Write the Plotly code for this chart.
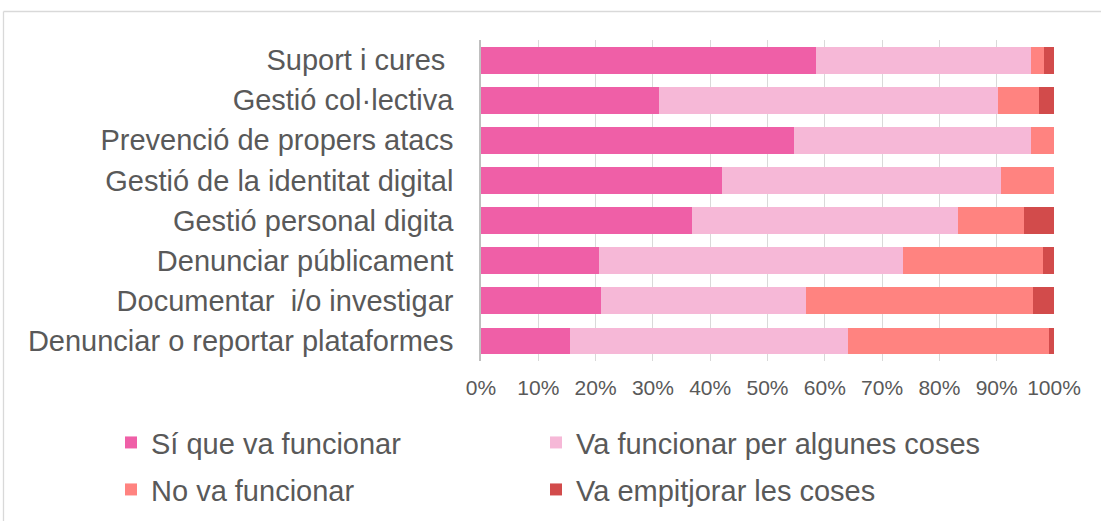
import plotly.graph_objects as go

categories = [
    "Suport i cures\u00a0",
    "Gestió col·lectiva",
    "Prevenció de propers atacs",
    "Gestió de la identitat digital",
    "Gestió personal digita",
    "Denunciar públicament",
    "Documentar \u00a0i/o investigar",
    "Denunciar o reportar plataformes",
]
si_funciona = [58.5, 31.0, 54.7, 42.1, 36.9, 20.6, 21.0, 15.5]
algunes_coses = [37.5, 59.2, 41.2, 48.7, 46.4, 53.0, 35.8, 48.5]
no_funciona = [2.3, 7.1, 4.1, 9.2, 11.4, 24.5, 39.6, 35.2]
empitjorar = [1.7, 2.7, 0.0, 0.0, 5.3, 1.9, 3.6, 0.8]

series_names = ["Sí que va funcionar", "Va funcionar per algunes coses",
                "No va funcionar", "Va empitjorar les coses"]
series_values = [si_funciona, algunes_coses, no_funciona, empitjorar]
colors = ["#EF5FA7", "#F6B8D7", "#FF8380", "#D24B4B"]
legend_ids = ["legend", "legend2", "legend3", "legend4"]

tick_vals = [0, 10, 20, 30, 40, 50, 60, 70, 80, 90, 100]
tick_text = [f"{v}%" for v in tick_vals]

fig = go.Figure()
for name, vals, col, lg in zip(series_names, series_values, colors, legend_ids):
    fig.add_trace(go.Bar(
        y=categories, x=vals, name=name, orientation="h",
        marker=dict(color=col, line=dict(width=0)),
        legend=lg, showlegend=True,
    ))

font_family = "Liberation Sans, Arial, sans-serif"
W, H = 1101, 521
L, R, T, B = 481, 47, 40, 160
pw = W - L - R
ph = H - T - B

def px_to_paper_x(px):
    return (px - L) / pw

def px_to_paper_y(py):
    return (H - B - py) / ph

def legend_at(px, py):
    return dict(
        x=px_to_paper_x(px), y=px_to_paper_y(py),
        xanchor="left", yanchor="middle",
        orientation="h",
        font=dict(size=29, color="#595959"),
        bgcolor="rgba(0,0,0,0)",
    )

# legend box positions (left edge, vertical centre)
col_x = [111, 536]
row_y = [442.6, 489.6]

fig.update_layout(
    width=W, height=H,
    showlegend=True,
    barmode="stack",
    bargap=0.33,
    plot_bgcolor="white",
    paper_bgcolor="white",
    margin=dict(l=L, r=R, t=T, b=B, pad=0, autoexpand=False),
    font=dict(family=font_family, color="#595959"),
    xaxis=dict(
        range=[0, 100], tickvals=tick_vals, ticktext=tick_text,
        showgrid=True, gridcolor="#D9D9D9", gridwidth=1.3,
        zeroline=False, showline=False,
        tickfont=dict(size=21, color="#595959"),
        ticklabelstandoff=12, fixedrange=True,
    ),
    yaxis=dict(
        autorange="reversed",
        showline=True, linecolor="#BFBFBF", linewidth=1.5,
        tickfont=dict(size=29, color="#595959"),
        ticklabelstandoff=20,
        showgrid=False,
    ),
    legend=legend_at(col_x[0], row_y[0]),
    legend2=legend_at(col_x[1], row_y[0]),
    legend3=legend_at(col_x[0], row_y[1]),
    legend4=legend_at(col_x[1], row_y[1]),
    shapes=[
        dict(type="line", xref="paper", yref="paper",
             x0=px_to_paper_x(3.5), x1=px_to_paper_x(3.5),
             y0=px_to_paper_y(11.5), y1=px_to_paper_y(530),
             line=dict(color="#D9D9D9", width=1.3)),
        dict(type="line", xref="paper", yref="paper",
             x0=px_to_paper_x(3.5), x1=px_to_paper_x(1110),
             y0=px_to_paper_y(11.5), y1=px_to_paper_y(11.5),
             line=dict(color="#D9D9D9", width=1.3)),
    ],
)

fig.write_html(
    "out.html",
    config={"displayModeBar": False},
    post_script="document.body.style.margin='0';document.body.style.overflow='hidden';",
)
